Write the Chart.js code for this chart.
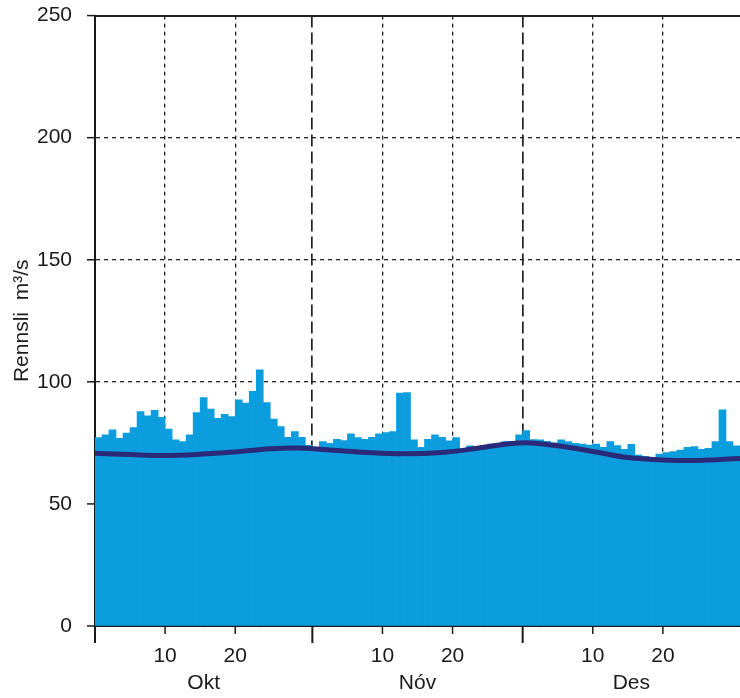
<!DOCTYPE html>
<html lang="is">
<head>
    <meta charset="UTF-8">
    <title>Rennsli okt-des</title>
    <script src="https://cdn.jsdelivr.net/npm/chart.js"></script>
    <style>
        body {
            margin: 0;
            background: #ffffff;
        }
        #wrap {
            width: 740px;
            height: 698px;
        }
    </style>
</head>
<body>
    <div id="wrap">
        <canvas id="flowChart" width="740" height="698"></canvas>
    </div>

    <script>
        // daglegt rennsli (m3/s), lesið af myndinni
        const oktFlow = [77.2, 78.3, 80.3, 76.9, 79.0, 81.3, 87.8, 86.1, 88.3, 85.5,
                         80.7, 76.2, 75.5, 78.3, 87.4, 93.6, 88.8, 85.1, 86.7, 85.8,
                         92.6, 91.3, 96.1, 104.9, 91.5, 84.7, 81.7, 77.3, 79.6, 77.3, 74.0];
        const novFlow = [72.8, 75.5, 74.8, 76.5, 75.9, 78.7, 77.2, 76.5, 77.3, 78.7,
                         79.2, 79.6, 95.4, 95.6, 76.2, 73.2, 76.5, 78.3, 77.3, 75.8,
                         77.2, 72.5, 73.8, 73.0, 74.0, 74.5, 74.8, 75.5, 75.6, 78.3];
        const desFlow = [80.0, 76.4, 76.2, 75.6, 75.0, 76.2, 75.5, 74.8, 74.5, 74.1,
                         74.5, 73.2, 75.5, 73.9, 72.4, 74.4, 70.0, 69.5, 69.0, 70.4,
                         71.0, 71.4, 72.1, 73.2, 73.5, 72.4, 72.8, 75.5, 88.5, 75.5, 73.8];

        // meðalrennsli (dökka línan), dagur frá 1. okt
        const meanDays = [0, 5, 10, 15, 20, 25, 29, 33, 38, 44, 50, 55, 59, 62, 66, 71, 76, 81, 86, 92];
        const meanFlow = [70.8, 70.2, 69.8, 70.3, 71.3, 72.6, 72.9, 72.2, 71.2, 70.5,
                          71.2, 73.0, 74.6, 75.0, 73.8, 71.5, 69.0, 68.0, 67.8, 68.6];

        const monthStarts = [0, 31, 61, 92];
        const dayTicks = [10, 20, 41, 51, 71, 81];
        const dayLabels = ['10', '20', '10', '20', '10', '20'];
        const monthNames = ['Okt', 'Nóv', 'Des'];
        const yTicks = [0, 50, 100, 150, 200, 250];

        const daily = oktFlow.concat(novFlow, desFlow);
        const barData = daily.map((v, i) => ({ x: i + 0.5, y: v }));
        const lineData = meanDays.map((d, i) => ({ x: d, y: meanFlow[i] }));
        const monthMids = monthNames.map((m, i) => (monthStarts[i] + monthStarts[i + 1]) / 2);

        const xTickVals = monthStarts.concat(dayTicks).sort((a, b) => a - b);
        const font = { family: "'Liberation Sans', Arial, sans-serif", size: 21 };
        const ink = '#1a1a1a';
        const clear = 'rgba(0,0,0,0)';

        // small tick marks outside both axes (long ones at month starts)
        const axisTicks = {
            id: 'axisTicks',
            afterDraw(chart) {
                const c = chart.ctx;
                const sx = chart.scales.x;
                const sy = chart.scales.y;
                const area = chart.chartArea;
                c.save();
                c.strokeStyle = ink;
                c.lineWidth = 2;
                monthStarts.slice(0, 3).forEach(d => {
                    const px = sx.getPixelForValue(d);
                    c.beginPath();
                    c.moveTo(px, area.bottom);
                    c.lineTo(px, area.bottom + 17);
                    c.stroke();
                });
                c.lineWidth = 1.5;
                dayTicks.forEach(d => {
                    const px = sx.getPixelForValue(d);
                    c.beginPath();
                    c.moveTo(px, area.bottom);
                    c.lineTo(px, area.bottom + 8);
                    c.stroke();
                });
                yTicks.forEach(v => {
                    const py = sy.getPixelForValue(v);
                    c.beginPath();
                    c.moveTo(area.left - 8, py);
                    c.lineTo(area.left, py);
                    c.stroke();
                });
                c.restore();
            }
        };

        new Chart(document.getElementById('flowChart'), {
            type: 'bar',
            data: {
                datasets: [
                    {
                        type: 'line',
                        data: lineData,
                        borderColor: '#2b2a78',
                        borderWidth: 5,
                        pointRadius: 0,
                        tension: 0.4,
                        order: 0
                    },
                    {
                        data: barData,
                        backgroundColor: '#0b9ddd',
                        borderWidth: 0,
                        barPercentage: 1,
                        categoryPercentage: 1,
                        order: 1
                    }
                ]
            },
            options: {
                responsive: false,
                animation: false,
                layout: { padding: { top: 0, right: 0, bottom: 0, left: 0 } },
                plugins: {
                    legend: { display: false },
                    tooltip: { enabled: false }
                },
                scales: {
                    x: {
                        type: 'linear',
                        min: 0,
                        max: 92,
                        offset: false,
                        weight: 0,
                        afterBuildTicks: s => { s.ticks = xTickVals.map(v => ({ value: v })); },
                        afterFit: s => { s.height = 45; },
                        ticks: {
                            autoSkip: false,
                            maxRotation: 0,
                            padding: 0,
                            color: ink,
                            font: font,
                            callback: v => {
                                const k = dayTicks.indexOf(v);
                                return k >= 0 ? dayLabels[k] : '';
                            }
                        },
                        grid: {
                            drawTicks: true,
                            tickLength: 18,
                            tickColor: clear,
                            offset: false,
                            color: ctx => {
                                const v = ctx.tick ? ctx.tick.value : -1;
                                return (v === 0 || v === 92) ? clear : '#222';
                            },
                            lineWidth: ctx => (ctx.tick && (ctx.tick.value === 31 || ctx.tick.value === 61)) ? 1.7 : 1.3
                        },
                        border: {
                            display: true,
                            color: ink,
                            width: 2,
                            dash: ctx => {
                                if (!ctx.tick) return [];
                                return (ctx.tick.value === 31 || ctx.tick.value === 61) ? [12, 5] : [4, 4];
                            }
                        }
                    },
                    x2: {
                        type: 'linear',
                        position: 'bottom',
                        min: 0,
                        max: 92,
                        offset: false,
                        weight: 1,
                        afterBuildTicks: s => { s.ticks = monthMids.map(v => ({ value: v })); },
                        afterFit: s => { s.height = 27; },
                        ticks: {
                            autoSkip: false,
                            maxRotation: 0,
                            padding: 0,
                            color: ink,
                            font: font,
                            callback: v => monthNames[monthMids.indexOf(v)]
                        },
                        grid: { display: false, drawTicks: false },
                        border: { display: false }
                    },
                    y: {
                        min: 0,
                        max: 250,
                        afterBuildTicks: s => { s.ticks = yTicks.map(v => ({ value: v })); },
                        afterFit: s => { s.width = 95; },
                        title: {
                            display: true,
                            text: 'Rennsli  m³/s',
                            color: ink,
                            font: font,
                            padding: { top: 10, bottom: 0 }
                        },
                        ticks: {
                            padding: 3,
                            color: ink,
                            font: font
                        },
                        grid: {
                            color: ctx => {
                                const v = ctx.tick ? ctx.tick.value : -1;
                                return v === 0 ? clear : '#222';
                            },
                            lineWidth: ctx => (ctx.tick && ctx.tick.value === 250) ? 2 : 1.3,
                            tickColor: clear,
                            tickLength: 20,
                            tickBorderDash: []
                        },
                        border: {
                            display: true,
                            color: ink,
                            width: 2,
                            dash: ctx => {
                                if (!ctx.tick) return [];
                                return ctx.tick.value === 250 ? [] : [4, 4];
                            }
                        }
                    }
                }
            },
            plugins: [axisTicks]
        });
    </script>
</body>
</html>
